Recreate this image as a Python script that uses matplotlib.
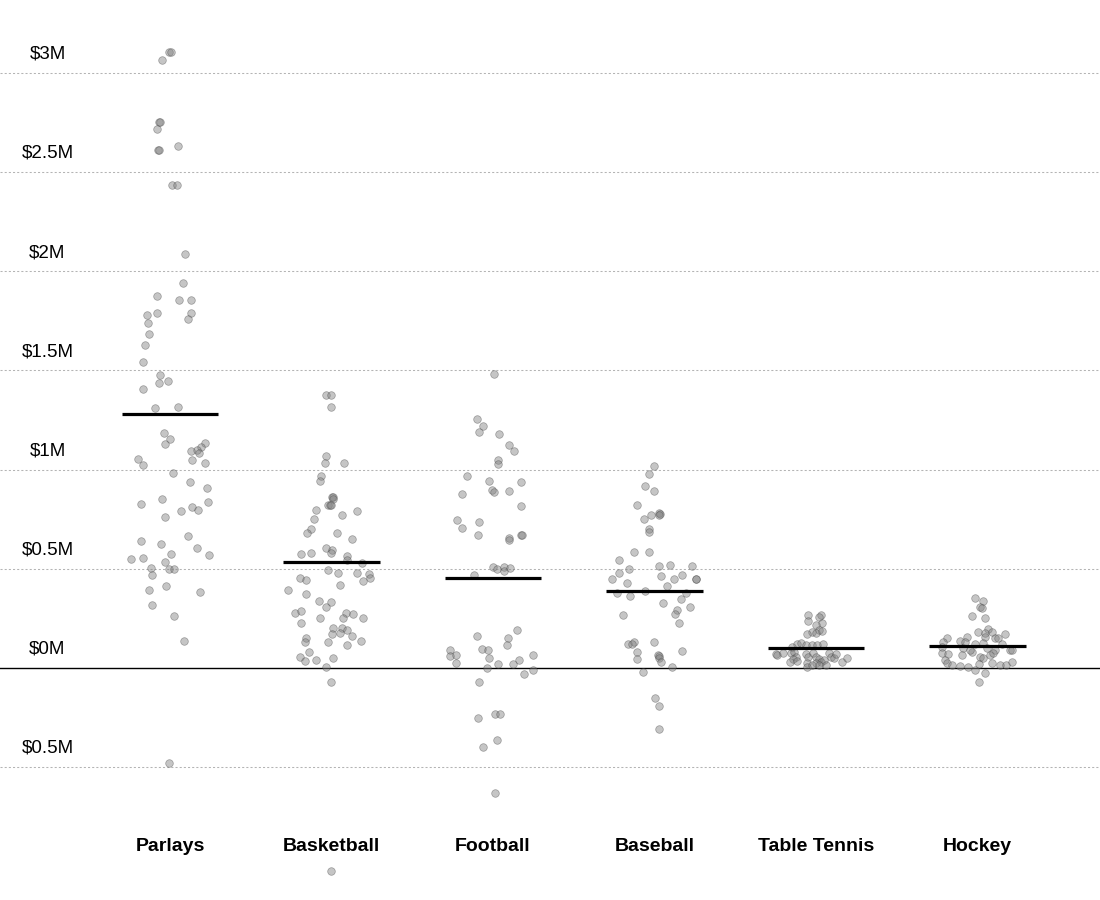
import numpy as np
import matplotlib
matplotlib.use("Agg")
import matplotlib.pyplot as plt

plt.rcParams['font.family'] = ['Liberation Sans', 'DejaVu Sans']

# categories and the mean level drawn for each (in $M)
categories = ["Parlays", "Basketball", "Football", "Baseball", "Table Tennis", "Hockey"]
means = [1.280, 0.534, 0.453, 0.388, 0.101, 0.111]

# y axis ticks (negative tick is labelled without the minus sign, as in the source)
tick_vals = [3, 2.5, 2, 1.5, 1, 0.5, 0, -0.5]
tick_labels = ["$3M", "$2.5M", "$2M", "$1.5M", "$1M", "$0.5M", "$0M", "$0.5M"]

# per-bet results in $M, with the horizontal jitter (category units)
parlays_vals = [3.108, 3.108, 3.063, 2.751, 2.751, 2.715, 2.630, 2.610, 2.610, 2.433,
                2.433, 2.086, 1.940, 1.874, 1.854, 1.854, 1.778, 1.788, 1.788, 1.758,
                1.738, 1.683, 1.627, 1.542, 1.476, 1.436, 1.446, 1.406, 1.310, 1.315,
                1.184, 1.154, 1.128, 1.134, 1.113, 1.098, 1.093, 1.083, 1.053, 1.048,
                1.023, 1.033, 0.982, 0.937, 0.907, 0.851, 0.826, 0.836, 0.811, 0.796,
                0.791, 0.761, 0.665, 0.640, 0.625, 0.605, 0.574, 0.569, 0.549, 0.554,
                0.534, 0.504, 0.499, 0.499, 0.469, 0.413, 0.393, 0.383, 0.317, 0.262,
                0.136, -0.479]
parlays_jit = [-0.006, 0.006, -0.050, -0.068, -0.062, -0.080, 0.050, -0.074, -0.070, 0.012,
               0.043, 0.093, 0.080, -0.080, 0.056, 0.130, -0.142, -0.080, 0.130, 0.111,
               -0.136, -0.130, -0.155, -0.167, -0.062, -0.068, -0.012, -0.167, -0.093, 0.050,
               -0.037, 0.000, -0.031, 0.217, 0.192, 0.167, 0.130, 0.180, -0.198, 0.136,
               -0.167, 0.217, 0.019, 0.124, 0.229, -0.050, -0.180, 0.235, 0.136, 0.173,
               0.068, -0.031, 0.111, -0.180, -0.056, 0.167, 0.006, 0.241, -0.241, -0.167,
               -0.031, -0.118, -0.006, 0.025, -0.111, -0.025, -0.130, 0.186, -0.111, 0.025,
               0.087, -0.006]

basketball_vals = [1.375, 1.375, 1.315, 1.068, 1.033, 1.033, 0.967, 0.942, 0.861, 0.861,
                   0.851, 0.821, 0.821, 0.821, 0.796, 0.791, 0.751, 0.771, 0.700, 0.680,
                   0.680, 0.650, 0.574, 0.579, 0.605, 0.594, 0.579, 0.564, 0.544, 0.529,
                   0.494, 0.479, 0.479, 0.474, 0.453, 0.438, 0.453, 0.443, 0.393, 0.418,
                   0.373, 0.338, 0.333, 0.307, 0.277, 0.287, 0.252, 0.277, 0.272, 0.252,
                   0.252, 0.227, 0.202, 0.202, 0.191, 0.171, 0.176, 0.161, 0.151, 0.131,
                   0.131, 0.136, 0.116, 0.081, 0.055, 0.035, 0.040, 0.050, 0.005, -0.071,
                   -1.023]
basketball_jit = [-0.037, 0.000, 0.000, -0.031, -0.043, 0.080, -0.068, -0.074, 0.006, 0.012,
                  0.012, -0.019, -0.012, -0.006, -0.093, 0.155, -0.111, 0.068, -0.130, -0.149,
                  0.031, 0.124, -0.186, -0.124, -0.031, 0.006, -0.006, 0.093, 0.099, 0.186,
                  -0.019, 0.043, 0.155, 0.235, 0.241, 0.198, -0.198, -0.155, -0.272, 0.050,
                  -0.155, -0.080, -0.006, -0.037, -0.229, -0.186, -0.074, 0.087, 0.136, 0.074,
                  0.192, -0.186, 0.012, 0.068, 0.099, 0.006, 0.050, 0.130, -0.155, -0.167,
                  -0.019, 0.180, 0.099, -0.142, -0.192, -0.161, -0.099, 0.012, -0.037, 0.000,
                  -0.006]

football_vals = [1.481, 1.254, 1.219, 1.189, 1.179, 1.123, 1.093, 1.048, 1.028, 0.967,
                 0.942, 0.937, 0.897, 0.887, 0.892, 0.877, 0.816, 0.746, 0.736, 0.705,
                 0.670, 0.655, 0.645, 0.670, 0.670, 0.509, 0.499, 0.509, 0.489, 0.504,
                 0.469, 0.191, 0.161, 0.151, 0.116, 0.091, 0.096, 0.091, 0.060, 0.065,
                 0.050, 0.065, 0.040, 0.025, 0.020, 0.020, 0.000, -0.010, -0.030, -0.071,
                 -0.252, -0.232, -0.232, -0.363, -0.398, -0.630]
football_jit = [0.009, -0.102, -0.059, -0.084, 0.040, 0.096, 0.133, 0.028, 0.028, -0.158,
                -0.022, 0.176, -0.009, 0.009, 0.096, -0.195, 0.176, -0.220, -0.084, -0.189,
                -0.090, 0.102, 0.102, 0.176, 0.180, 0.000, 0.022, 0.071, 0.071, 0.108,
                -0.115, 0.146, -0.096, 0.090, 0.084, -0.269, -0.071, -0.028, -0.269, -0.232,
                -0.022, 0.245, 0.164, -0.226, 0.028, 0.121, -0.040, 0.245, 0.195, -0.084,
                -0.090, 0.015, 0.046, 0.022, -0.065, 0.015]

baseball_vals = [1.018, 0.977, 0.917, 0.892, 0.821, 0.751, 0.771, 0.781, 0.776, 0.771,
                 0.700, 0.685, 0.584, 0.584, 0.544, 0.499, 0.514, 0.519, 0.514, 0.479,
                 0.448, 0.428, 0.463, 0.448, 0.469, 0.448, 0.448, 0.413, 0.388, 0.378,
                 0.363, 0.378, 0.348, 0.327, 0.307, 0.292, 0.272, 0.267, 0.227, 0.121,
                 0.131, 0.121, 0.131, 0.081, 0.086, 0.065, 0.060, 0.050, 0.045, 0.030,
                 0.005, -0.020, -0.151, -0.191, -0.307]
baseball_jit = [0.000, -0.031, -0.056, 0.000, -0.111, -0.068, -0.019, 0.025, 0.031, 0.025,
                -0.031, -0.037, -0.130, -0.031, -0.217, -0.155, 0.025, 0.093, 0.235, -0.217,
                -0.266, -0.173, 0.043, 0.118, 0.173, 0.254, 0.260, 0.080, -0.056, -0.235,
                -0.149, 0.198, 0.161, 0.050, 0.217, 0.142, 0.124, -0.198, 0.149, -0.167,
                -0.130, -0.142, 0.000, -0.111, 0.173, 0.019, 0.025, 0.025, -0.111, 0.043,
                0.111, -0.074, 0.006, 0.025, 0.025]

tabletennis_vals = [0.267, 0.267, 0.257, 0.237, 0.227, 0.217, 0.191, 0.181, 0.171, 0.176,
                    0.186, 0.121, 0.126, 0.116, 0.116, 0.116, 0.121, 0.106, 0.071, 0.065,
                    0.076, 0.076, 0.081, 0.055, 0.045, 0.030, 0.035, 0.071, 0.055, 0.076,
                    0.055, 0.045, 0.030, 0.040, 0.025, 0.025, 0.076, 0.055, 0.050, 0.071,
                    0.030, 0.050, 0.005, 0.015, 0.015, 0.015]
tabletennis_jit = [-0.050, 0.031, 0.019, -0.050, 0.037, 0.000, 0.019, -0.025, -0.056, 0.000,
                   0.037, -0.118, -0.093, -0.062, -0.025, 0.006, 0.043, -0.149, -0.248, -0.241,
                   -0.204, -0.155, -0.136, -0.124, -0.142, -0.161, -0.118, -0.062, -0.050, -0.019,
                   0.000, 0.019, 0.031, 0.050, -0.056, 0.000, 0.080, 0.093, 0.111, 0.124,
                   0.161, 0.192, -0.056, 0.019, -0.025, 0.062]

hockey_vals = [0.353, 0.338, 0.307, 0.302, 0.262, 0.252, 0.196, 0.181, 0.176, 0.181,
               0.171, 0.151, 0.151, 0.156, 0.151, 0.131, 0.136, 0.156, 0.131, 0.121,
               0.126, 0.121, 0.106, 0.101, 0.081, 0.091, 0.101, 0.091, 0.091, 0.091,
               0.076, 0.065, 0.071, 0.055, 0.065, 0.076, 0.050, 0.040, 0.025, 0.015,
               0.010, 0.005, 0.020, 0.025, 0.015, 0.015, 0.030, -0.010, -0.025, -0.071]
hockey_jit = [-0.015, 0.034, 0.015, 0.028, -0.034, 0.046, 0.065, 0.003, 0.046, 0.090,
              0.170, 0.108, 0.127, 0.046, -0.189, -0.214, -0.108, -0.065, -0.077, -0.015,
              0.034, 0.152, -0.220, -0.090, -0.034, -0.046, 0.059, 0.108, 0.201, 0.214,
              -0.220, -0.096, -0.183, 0.015, 0.077, 0.096, 0.034, -0.201, -0.189, -0.158,
              -0.108, -0.059, 0.009, 0.090, 0.139, 0.176, 0.214, -0.015, 0.046, 0.009]

series_vals = [parlays_vals, basketball_vals, football_vals, baseball_vals,
               tabletennis_vals, hockey_vals]
series_jit = [parlays_jit, basketball_jit, football_jit, baseball_jit,
              tabletennis_jit, hockey_jit]

fig = plt.figure(figsize=(11, 9), dpi=100)
ax = fig.add_axes([0, 0.0815, 1, 0.8815])
ax.set_xlim(-1.0526, 5.7585)
ax.set_ylim(-0.8, 3.2)

# grid: dotted grey, solid black at zero
for v in tick_vals:
    if v == 0:
        ax.axhline(0, color='black', lw=1.0, zorder=1)
    else:
        ax.axhline(v, color='#b4b4b4', lw=0.75, ls=(0, (2.0, 2.0)), zorder=1)

for v, lab in zip(tick_vals, tick_labels):
    ax.text(-0.7585, v + 0.072, lab, ha='center', va='baseline', fontsize=13.5, color='black')

for i, (vals, jit) in enumerate(zip(series_vals, series_jit)):
    xs = i + np.array(jit)
    ax.scatter(xs, vals, s=30, facecolor='#808080', edgecolor='#404040',
               linewidth=0.5, alpha=0.45, zorder=2, clip_on=False)
    ax.plot([i - 0.30, i + 0.30], [means[i], means[i]], color='black', lw=2.3,
            solid_capstyle='butt', zorder=3)

ax.set_xticks(range(len(categories)))
ax.set_xticklabels(categories, fontsize=14, fontweight='bold')
ax.tick_params(axis='x', length=0, pad=8)
ax.set_yticks([])
for sp in ax.spines.values():
    sp.set_visible(False)

fig.savefig("out.png", dpi=100)
